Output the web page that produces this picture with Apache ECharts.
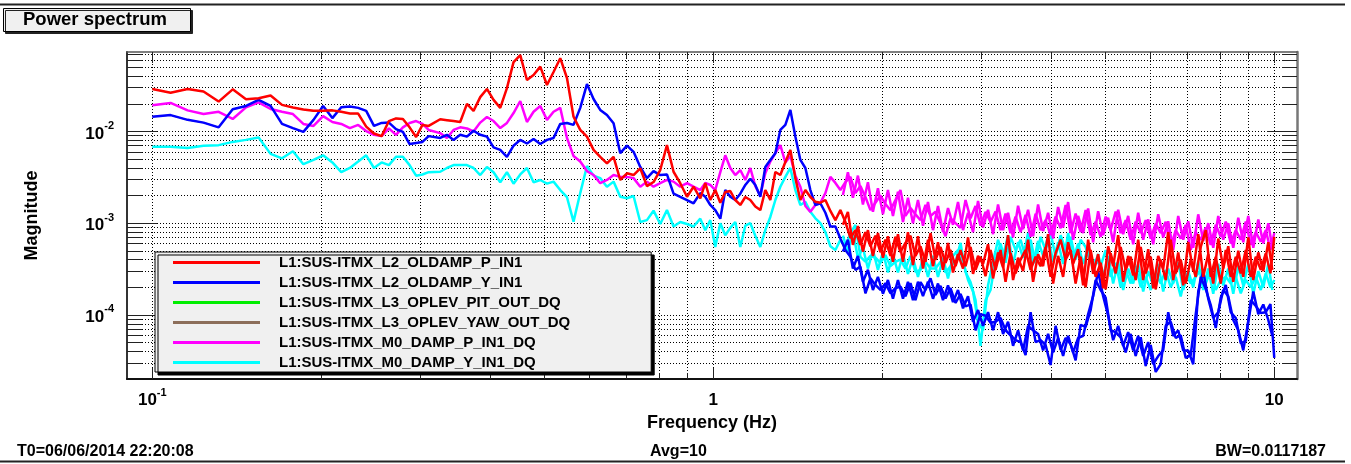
<!DOCTYPE html>
<html>
<head>
<meta charset="utf-8">
<title>Power spectrum</title>
<script src="https://cdn.jsdelivr.net/npm/echarts@6/dist/echarts.min.js"></script>
<style>
  html, body { margin: 0; padding: 0; background: #fff; }
  #main { width: 1351px; height: 464px; }
</style>
</head>
<body>
<div id="main"></div>
<script>
// frequency bins (Hz), shared by all traces
var freqs = [
  0.1, 0.1078, 0.1156, 0.1234, 0.1313, 0.1391, 0.1469, 0.1547, 0.1625, 0.1703,
  0.1781, 0.1859, 0.1938, 0.2016, 0.2094, 0.2172, 0.225, 0.2328, 0.2406, 0.2484,
  0.2563, 0.2641, 0.2719, 0.2797, 0.2875, 0.2953, 0.3031, 0.3109, 0.326, 0.3351,
  0.3443, 0.3539, 0.3638, 0.3738, 0.3842, 0.3949, 0.4058, 0.4171, 0.4287, 0.4405,
  0.4528, 0.4654, 0.4782, 0.4916, 0.5053, 0.5191, 0.5336, 0.5485, 0.5635, 0.5792,
  0.5954, 0.6117, 0.6287, 0.6463, 0.6641, 0.6826, 0.7017, 0.7209, 0.741, 0.7616,
  0.7825, 0.8043, 0.8268, 0.8495, 0.8732, 0.8977, 0.9223, 0.948, 0.9677, 0.9878,
  1.0082, 1.0292, 1.0505, 1.0723, 1.0945, 1.1172, 1.1405, 1.1641, 1.1883, 1.2129,
  1.2381, 1.2638, 1.2901, 1.3168, 1.3442, 1.3721, 1.4005, 1.4296, 1.4593, 1.4895,
  1.5205, 1.552, 1.5842, 1.6171, 1.6507, 1.6849, 1.7199, 1.7556, 1.792, 1.8292,
  1.8672, 1.9059, 1.9455, 1.9859, 2.0271, 2.0692, 2.1121, 2.156, 2.2007, 2.2464,
  2.293, 2.3406, 2.3892, 2.4388, 2.4894, 2.5411, 2.5938, 2.6476, 2.7026, 2.7587,
  2.8159, 2.8744, 2.934, 2.9949, 3.0571, 3.1205, 3.1853, 3.2514, 3.3189, 3.3878,
  3.4581, 3.5298, 3.6031, 3.6779, 3.7542, 3.8321, 3.9116, 3.9928, 4.0757, 4.1603,
  4.2466, 4.3347, 4.4247, 4.5165, 4.6103, 4.7059, 4.8036, 4.9033, 5.0051, 5.1089,
  5.215, 5.3232, 5.4337, 5.5464, 5.6615, 5.779, 5.899, 6.0214, 6.1464, 6.2739,
  6.4041, 6.537, 6.6727, 6.8112, 6.9525, 7.0968, 7.2441, 7.3944, 7.5479, 7.7045,
  7.8644, 8.0276, 8.1942, 8.3643, 8.5378, 8.715, 8.8959, 9.0806, 9.269, 9.4614,
  9.6578, 9.8431, 10.0
];

// extra bins in the noisy part (between the ones above), read as a second pass
var fineFreqs = [
  1.7023, 1.7376, 1.7737, 1.8105, 1.8481, 1.8865, 1.9256, 1.9656, 2.0064, 2.048,
  2.0906, 2.1339, 2.1783, 2.2234, 2.2696, 2.3167, 2.3648, 2.4139, 2.464, 2.5151,
  2.5673, 2.6206, 2.6749, 2.7305, 2.7872, 2.845, 2.9041, 2.9643, 3.0258, 3.0886,
  3.1527, 3.2182, 3.285, 3.3531, 3.4228, 3.4938, 3.5662, 3.6403, 3.7159, 3.7929,
  3.8716, 3.952, 4.034, 4.1178, 4.2032, 4.2904, 4.3794, 4.4704, 4.5631, 4.6579,
  4.7545, 4.8532, 4.9539, 5.0567, 5.1616, 5.2688, 5.3781, 5.4898, 5.6036, 5.7199,
  5.8386, 5.9599, 6.0835, 6.2098, 6.3386, 6.4702, 6.6044, 6.7415, 6.8815, 7.0242,
  7.17, 7.3188, 7.4707, 7.6258, 7.784, 7.9455, 8.1104, 8.2787, 8.4506, 8.6259,
  8.8049, 8.9877, 9.1743, 9.3646, 9.559, 9.7574, 9.92
];

// L1:SUS-ITMX_L2_OLDAMP_P_IN1
var oldampP = [
  2.9e-2, 2.65e-2, 2.9e-2, 2.73e-2, 2.12e-2, 2.88e-2, 2.25e-2, 2.3e-2, 2.47e-2, 1.95e-2,
  1.83e-2, 1.74e-2, 1.68e-2, 1.68e-2, 1.7e-2, 1.64e-2, 1.57e-2, 1.57e-2, 1.13e-2, 9.5e-3,
  8.9e-3, 1.3e-2, 1.39e-2, 1.37e-2, 1.11e-2, 8.7e-3, 1.18e-2, 1.15e-2, 1.36e-2, 1.33e-2,
  1.3e-2, 1.27e-2, 2.0e-2, 1.68e-2, 2.37e-2, 2.91e-2, 2.21e-2, 1.81e-2, 2.97e-2, 5.7e-2,
  6.8e-2, 3.64e-2, 4.13e-2, 5.1e-2, 3.21e-2, 4.46e-2, 6.3e-2, 3.83e-2, 1.45e-2, 1.04e-2,
  8.8e-3, 6.3e-3, 5.3e-3, 4.5e-3, 5.3e-3, 2.96e-3, 3.5e-3, 3.35e-3, 3.97e-3, 2.54e-3,
  2.81e-3, 3.8e-3, 7.1e-3, 3.64e-3, 2.73e-3, 1.94e-3, 2.5e-3, 1.87e-3, 2.73e-3, 1.79e-3,
  2.3e-3, 1.67e-3, 2.19e-3, 2.24e-3, 1.79e-3, 1.58e-3, 1.93e-3, 1.79e-3, 1.52e-3, 1.39e-3,
  2.3e-3, 1.79e-3, 3.62e-3, 3.35e-3, 4.65e-3, 6.3e-3, 3.1e-3, 1.79e-3, 2.3e-3, 1.93e-3,
  1.71e-3, 1.67e-3, 1.79e-3, 1.36e-3, 1.08e-3, 1.39e-3, 1.03e-3, 6.9e-4, 8.4e-4, 5.8e-4,
  8.0e-4, 5.6e-4, 7.3e-4, 4.85e-4, 6.6e-4, 4.4e-4, 7.1e-4, 4.85e-4, 6.1e-4, 7.3e-4,
  4.4e-4, 5.6e-4, 3.8e-4, 7.8e-4, 4.0e-4, 5.5e-4, 3.7e-4, 5.1e-4, 3.4e-4, 5.1e-4,
  3.4e-4, 5.5e-4, 3.1e-4, 4.3e-4, 2.65e-4, 5.1e-4, 3.1e-4, 5.1e-4, 2.3e-4, 4.7e-4,
  2.84e-4, 4.0e-4, 5.1e-4, 3.1e-4, 4.3e-4, 3.4e-4, 5.5e-4, 2.6e-4, 4.7e-4, 6.6e-4,
  4.0e-4, 5.1e-4, 2.2e-4, 4.3e-4, 2.0e-4, 5.1e-4, 2.6e-4, 3.7e-4, 1.9e-4, 4.7e-4,
  2.84e-4, 5.5e-4, 3.1e-4, 4.3e-4, 2.4e-4, 5.5e-4, 2.84e-4, 4.3e-4, 1.9e-4, 4.0e-4,
  2.4e-4, 6.6e-4, 2.84e-4, 4.0e-4, 2.2e-4, 4.0e-4, 2.6e-4, 5.5e-4, 8.4e-4, 2.6e-4,
  4.3e-4, 2.2e-4, 5.1e-4, 2.6e-4, 4.3e-4, 2.84e-4, 5.1e-4, 2.6e-4, 4.3e-4, 3.1e-4,
  4.7e-4, 2.84e-4, 7.1e-4
];
var oldampPFine = [
  9.6e-4, 1.33e-3, 5.8e-4, 9.3e-4, 4.9e-4, 8.4e-4, 4.4e-4, 7.8e-4, 4.2e-4, 7.2e-4,
  3.8e-4, 7.6e-4, 3.8e-4, 8.0e-4, 3.5e-4, 7.2e-4, 3.2e-4, 6.6e-4, 3.4e-4, 6.2e-4,
  3.1e-4, 6.1e-4, 2.9e-4, 4.6e-4, 3.2e-4, 7.0e-4, 2.8e-4, 4.4e-4, 3.6e-4, 5.9e-4,
  2.5e-4, 4.8e-4, 3.3e-4, 7.4e-4, 2.4e-4, 4.2e-4, 3.0e-4, 6.6e-4, 2.3e-4, 4.6e-4,
  3.4e-4, 7.6e-4, 2.2e-4, 4.4e-4, 2.6e-4, 6.2e-4, 3.6e-4, 5.2e-4, 2.1e-4, 6.6e-4,
  2.8e-4, 4.6e-4, 1.95e-4, 5.6e-4, 3.4e-4, 7.4e-4, 2.3e-4, 4.4e-4, 2.7e-4, 6.6e-4,
  2.4e-4, 5.2e-4, 1.95e-4, 4.4e-4, 3.2e-4, 8.0e-4, 2.4e-4, 4.8e-4, 2.1e-4, 6.2e-4,
  3.0e-4, 7.6e-4, 2.6e-4, 4.6e-4, 2.2e-4, 6.8e-4, 3.2e-4, 5.6e-4, 2.3e-4, 5.0e-4,
  2.6e-4, 7.0e-4, 2.4e-4, 4.8e-4, 3.0e-4, 6.2e-4, 3.1e-4
];

// L1:SUS-ITMX_L2_OLDAMP_Y_IN1
var oldampY = [
  1.45e-2, 1.51e-2, 1.34e-2, 1.25e-2, 1.11e-2, 1.75e-2, 1.9e-2, 2.21e-2, 1.9e-2, 1.21e-2,
  1.09e-2, 9.9e-3, 1.34e-2, 1.9e-2, 1.4e-2, 1.84e-2, 1.87e-2, 1.81e-2, 1.68e-2, 1.15e-2,
  1.24e-2, 1.25e-2, 1.06e-2, 9.9e-3, 7.3e-3, 7.5e-3, 7.7e-3, 8.9e-3, 8.5e-3, 9.2e-3,
  8.1e-3, 9.2e-3, 8.8e-3, 1.02e-2, 9.2e-3, 8.8e-3, 6.7e-3, 6.3e-3, 5.3e-3, 7.0e-3,
  8.1e-3, 7.4e-3, 8.3e-3, 7.3e-3, 8.1e-3, 8.5e-3, 1.21e-2, 1.24e-2, 1.18e-2, 1.81e-2,
  3.29e-2, 2.26e-2, 1.72e-2, 1.51e-2, 1.23e-2, 5.8e-3, 7.0e-3, 6.0e-3, 4.1e-3, 3.1e-3,
  3.7e-3, 3.35e-3, 3.4e-3, 2.1e-3, 1.94e-3, 1.79e-3, 1.65e-3, 2.13e-3, 1.94e-3, 1.58e-3,
  1.39e-3, 1.12e-3, 2.3e-3, 1.94e-3, 1.79e-3, 2.1e-3, 2.61e-3, 3.06e-3, 2.61e-3, 1.94e-3,
  4.1e-3, 4.9e-3, 5.8e-3, 1.04e-2, 1.18e-2, 1.72e-2, 8.8e-3, 4.9e-3, 4.0e-3, 2.3e-3,
  1.58e-3, 1.65e-3, 1.3e-3, 9.2e-4, 9.2e-4, 6.8e-4, 5.1e-4, 4.3e-4, 3.1e-4, 3.36e-4,
  1.72e-4, 2.51e-4, 2.12e-4, 1.87e-4, 2.21e-4, 1.72e-4, 1.96e-4, 2.03e-4, 1.6e-4, 2.22e-4,
  1.45e-4, 2.28e-4, 1.87e-4, 2.51e-4, 1.65e-4, 2.07e-4, 1.51e-4, 1.96e-4, 1.35e-4, 1.69e-4,
  1.24e-4, 1.3e-4, 6.8e-5, 1.02e-4, 9.8e-5, 8.2e-5, 8.4e-5, 9.25e-5, 6.8e-5, 6.0e-5,
  5.3e-5, 5.05e-5, 3.65e-5, 1.07e-4, 5.05e-5, 5.3e-5, 4.7e-5, 2.84e-5, 7.6e-5, 4.14e-5,
  5.6e-5, 4.8e-5, 3.2e-5, 7.8e-5, 7.4e-5, 1.13e-4, 2.4e-4, 1.87e-4, 1.54e-4, 6.8e-5,
  6.5e-5, 5.7e-5, 3.9e-5, 6.2e-5, 3.56e-5, 5.7e-5, 2.77e-5, 4.7e-5, 2.39e-5, 2.91e-5,
  7.6e-5, 8.4e-5, 5.6e-5, 6.0e-5, 3.4e-5, 3.65e-5, 1.02e-4, 2.59e-4, 1.91e-4, 1.28e-4,
  7.2e-5, 1.54e-4, 2.12e-4, 1.07e-4, 9.25e-5, 4.9e-5, 5.2e-5, 1.45e-4, 1.25e-4, 1.05e-4,
  1.07e-4, 1.31e-4, 3.4e-5
];
var oldampYFine = [
  4.9e-4, 6.6e-4, 3.2e-4, 4.4e-4, 2.3e-4, 3.1e-4, 1.87e-4, 2.6e-4, 1.7e-4, 2.4e-4,
  1.5e-4, 2.4e-4, 1.5e-4, 2.3e-4, 1.45e-4, 2.3e-4, 1.6e-4, 2.3e-4, 1.5e-4, 2.2e-4,
  1.45e-4, 2.1e-4, 1.38e-4, 1.87e-4, 1.18e-4, 1.6e-4, 8.4e-5, 1.13e-4, 7.6e-5, 1.07e-4,
  6.8e-5, 1.07e-4, 6.2e-5, 8.4e-5, 4.6e-5, 6.8e-5, 4.1e-5, 7.6e-5, 6.8e-5, 6.2e-5,
  4.1e-5, 6.2e-5, 3.9e-5, 5.6e-5, 3.56e-5, 5.9e-5, 3.9e-5, 5.6e-5, 5.9e-5, 1.02e-4,
  1.6e-4, 3.0e-4, 1.6e-4, 9.8e-5, 5.3e-5, 7.6e-5, 4.6e-5, 6.5e-5, 4.1e-5, 5.9e-5,
  3.56e-5, 5.05e-5, 2.9e-5, 3.56e-5, 4.1e-5, 1.07e-4, 5.9e-5, 6.8e-5, 4.1e-5, 4.1e-5,
  2.9e-5, 1.8e-4, 3.0e-4, 1.5e-4, 9.25e-5, 1.07e-4, 1.87e-4, 1.6e-4, 8.8e-5, 6.8e-5,
  4.1e-5, 8.4e-5, 1.8e-4, 1.02e-4, 1.3e-4, 8.8e-5, 5.9e-5
];

// the L3 oplev traces lie right under the L2 traces, hidden by them
var oplevPit = oldampP;
var oplevYaw = oldampY;

// L1:SUS-ITMX_M0_DAMP_P_IN1_DQ
var m0DampP = [
  1.93e-2, 2.05e-2, 1.7e-2, 1.55e-2, 1.64e-2, 1.37e-2, 1.83e-2, 2.08e-2, 1.76e-2, 1.64e-2,
  1.55e-2, 1.21e-2, 1.15e-2, 1.47e-2, 1.27e-2, 1.21e-2, 1.09e-2, 1.18e-2, 1.01e-2, 9.2e-3,
  8.9e-3, 1.08e-2, 9.2e-3, 1.11e-2, 1.24e-2, 1.3e-2, 1.21e-2, 1.04e-2, 9.6e-3, 8.5e-3,
  1.04e-2, 1.11e-2, 1.08e-2, 1.0e-2, 1.25e-2, 1.44e-2, 1.3e-2, 1.09e-2, 1.24e-2, 1.59e-2,
  2.15e-2, 1.27e-2, 1.64e-2, 1.9e-2, 1.34e-2, 1.64e-2, 1.81e-2, 8.5e-3, 5.4e-3, 4.7e-3,
  3.7e-3, 3.35e-3, 2.73e-3, 2.96e-3, 3.35e-3, 3.2e-3, 3.2e-3, 3.1e-3, 2.5e-3, 2.84e-3,
  2.5e-3, 2.73e-3, 2.96e-3, 2.84e-3, 2.5e-3, 2.73e-3, 2.5e-3, 2.3e-3, 2.75e-3, 2.61e-3,
  2.3e-3, 3.6e-3, 5.5e-3, 4.0e-3, 3.35e-3, 3.8e-3, 2.96e-3, 4.0e-3, 2.54e-3, 2.0e-3,
  3.5e-3, 4.7e-3, 5.8e-3, 7.1e-3, 4.6e-3, 5.4e-3, 3.3e-3, 2.5e-3, 1.54e-3, 1.33e-3,
  1.58e-3, 1.67e-3, 2.13e-3, 3.2e-3, 2.75e-3, 2.3e-3, 2.81e-3, 3.2e-3, 2.13e-3, 2.54e-3,
  1.93e-3, 1.39e-3, 1.67e-3, 2.0e-3, 1.62e-3, 1.39e-3, 1.79e-3, 2.3e-3, 1.2e-3, 1.46e-3,
  1.25e-3, 1.08e-3, 1.58e-3, 1.2e-3, 1.33e-3, 1.0e-3, 7.2e-4, 1.13e-3, 1.0e-3, 8.9e-4,
  1.79e-3, 1.13e-3, 1.54e-3, 9.4e-4, 1.33e-3, 1.03e-3, 1.34e-3, 8.4e-4, 1.27e-3, 7.8e-4,
  1.18e-3, 8.0e-4, 1.23e-3, 7.1e-4, 1.27e-3, 8.4e-4, 1.08e-3, 7.4e-4, 1.18e-3, 8.8e-4,
  1.58e-3, 7.8e-4, 1.27e-3, 8.0e-4, 1.39e-3, 7.4e-4, 1.04e-3, 7.1e-4, 1.18e-3, 8.4e-4,
  1.34e-3, 7.8e-4, 1.08e-3, 6.6e-4, 1.04e-3, 7.8e-4, 1.08e-3, 6.8e-4, 9.9e-4, 7.8e-4,
  1.04e-3, 5.5e-4, 8.4e-4, 6.8e-4, 9.6e-4, 5.1e-4, 8.0e-4, 6.6e-4, 9.0e-4, 5.8e-4,
  9.6e-4, 7.1e-4, 1.04e-3, 6.0e-4, 8.4e-4, 6.6e-4, 1.04e-3, 5.8e-4, 8.0e-4, 6.3e-4,
  8.4e-4, 5.1e-4, 7.8e-4
];
var m0DampPFine = [
  2.03e-3, 3.6e-3, 1.9e-3, 3.3e-3, 1.6e-3, 2.8e-3, 1.33e-3, 2.4e-3, 1.25e-3, 2.3e-3,
  1.2e-3, 2.2e-3, 1.03e-3, 1.9e-3, 1.0e-3, 1.79e-3, 9.4e-4, 1.7e-3, 8.4e-4, 1.54e-3,
  8.0e-4, 1.46e-3, 9.6e-4, 1.7e-3, 8.4e-4, 1.3e-3, 8.0e-4, 1.75e-3, 9.0e-4, 1.4e-3,
  7.6e-4, 1.6e-3, 8.4e-4, 1.3e-3, 7.0e-4, 1.55e-3, 8.6e-4, 1.4e-3, 7.2e-4, 1.6e-3,
  8.2e-4, 1.3e-3, 6.8e-4, 1.5e-3, 9.0e-4, 1.7e-3, 6.6e-4, 1.2e-3, 7.8e-4, 1.45e-3,
  6.2e-4, 1.35e-3, 7.4e-4, 1.15e-3, 6.2e-4, 1.4e-3, 7.6e-4, 1.2e-3, 5.9e-4, 1.3e-3,
  6.6e-4, 1.1e-3, 5.9e-4, 1.25e-3, 7.0e-4, 1.05e-3, 5.1e-4, 1.2e-3, 6.6e-4, 1.05e-3,
  5.4e-4, 1.25e-3, 6.4e-4, 1.0e-3, 5.4e-4, 1.2e-3, 6.6e-4, 1.0e-3, 5.4e-4, 1.15e-3,
  6.2e-4, 1.2e-3, 5.4e-4, 1.1e-3, 6.0e-4, 1.0e-3, 5.4e-4
];

// L1:SUS-ITMX_M0_DAMP_Y_IN1_DQ
var m0DampY = [
  6.8e-3, 6.8e-3, 6.6e-3, 7.0e-3, 7.1e-3, 7.7e-3, 8.1e-3, 8.6e-3, 5.7e-3, 5.1e-3,
  6.1e-3, 4.4e-3, 4.9e-3, 5.5e-3, 4.6e-3, 3.6e-3, 4.0e-3, 4.7e-3, 5.5e-3, 4.0e-3,
  4.6e-3, 4.3e-3, 5.3e-3, 5.3e-3, 4.3e-3, 3.3e-3, 3.4e-3, 3.6e-3, 3.64e-3, 4.0e-3,
  4.3e-3, 4.3e-3, 4.3e-3, 4.0e-3, 3.35e-3, 4.1e-3, 3.6e-3, 2.8e-3, 3.6e-3, 2.7e-3,
  3.4e-3, 4.0e-3, 2.8e-3, 2.96e-3, 2.7e-3, 2.84e-3, 2.3e-3, 1.92e-3, 1.04e-3, 2.13e-3,
  4.2e-3, 3.3e-3, 3.1e-3, 2.5e-3, 2.84e-3, 1.94e-3, 1.87e-3, 1.98e-3, 1.03e-3, 1.08e-3,
  1.37e-3, 9.8e-4, 1.39e-3, 9.2e-4, 1.03e-3, 9.8e-4, 9.2e-4, 1.12e-3, 8.4e-4, 1.08e-3,
  5.5e-4, 1.0e-3, 7.4e-4, 8.9e-4, 1.03e-3, 5.5e-4, 9.4e-4, 1.0e-3, 7.3e-4, 5.5e-4,
  8.4e-4, 1.17e-3, 1.79e-3, 2.5e-3, 3.2e-3, 4.0e-3, 2.3e-3, 1.58e-3, 1.71e-3, 1.33e-3,
  1.13e-3, 1.0e-3, 8.0e-4, 5.6e-4, 5.1e-4, 6.6e-4, 5.5e-4, 7.8e-4, 9.6e-4, 4.3e-4,
  3.8e-4, 4.4e-4, 4.2e-4, 3.7e-4, 4.5e-4, 3.4e-4, 3.8e-4, 4.0e-4, 3.2e-4, 4.4e-4,
  2.94e-4, 3.1e-4, 3.8e-4, 3.2e-4, 3.2e-4, 3.8e-4, 2.9e-4, 3.4e-4, 3.8e-4, 6.1e-4,
  2.94e-4, 2.28e-4, 1.45e-4, 4.6e-5, 1.45e-4, 1.87e-4, 4.0e-4, 6.0e-4, 3.7e-4, 7.1e-4,
  5.1e-4, 6.6e-4, 4.3e-4, 6.6e-4, 3.7e-4, 7.1e-4, 5.1e-4, 7.8e-4, 4.3e-4, 7.4e-4,
  5.1e-4, 7.1e-4, 4.0e-4, 6.6e-4, 5.5e-4, 3.7e-4, 4.0e-4, 3.4e-4, 5.1e-4, 2.6e-4,
  3.7e-4, 2.0e-4, 3.1e-4, 2.2e-4, 3.4e-4, 2.0e-4, 2.6e-4, 1.87e-4, 2.84e-4, 2.2e-4,
  3.1e-4, 2.0e-4, 2.6e-4, 1.59e-4, 2.84e-4, 2.2e-4, 2.6e-4, 3.1e-4, 2.2e-4, 3.1e-4,
  1.87e-4, 2.4e-4, 2.6e-4, 2.2e-4, 2.6e-4, 1.72e-4, 2.4e-4, 2.0e-4, 2.6e-4, 1.87e-4,
  2.84e-4, 2.0e-4, 2.4e-4
];
var m0DampYFine = [
  7.3e-4, 4.9e-4, 8.0e-4, 4.2e-4, 5.4e-4, 3.2e-4, 5.1e-4, 3.1e-4, 4.9e-4, 2.9e-4,
  4.6e-4, 2.9e-4, 4.6e-4, 2.8e-4, 4.2e-4, 2.6e-4, 4.2e-4, 2.6e-4, 4.4e-4, 2.6e-4,
  4.2e-4, 2.5e-4, 4.4e-4, 5.1e-4, 3.8e-4, 2.4e-4, 1.8e-4, 8.4e-5, 6.8e-5, 2.1e-4,
  3.8e-4, 6.6e-4, 4.4e-4, 7.4e-4, 3.6e-4, 6.2e-4, 4.2e-4, 7.8e-4, 3.6e-4, 6.4e-4,
  4.4e-4, 7.3e-4, 3.8e-4, 6.2e-4, 3.6e-4, 7.8e-4, 4.0e-4, 6.0e-4, 3.6e-4, 5.4e-4,
  3.1e-4, 4.6e-4, 2.6e-4, 4.4e-4, 2.2e-4, 3.8e-4, 1.87e-4, 3.2e-4, 2.2e-4, 3.6e-4,
  1.8e-4, 3.0e-4, 2.1e-4, 3.6e-4, 1.8e-4, 3.2e-4, 2.2e-4, 3.8e-4, 1.87e-4, 3.0e-4,
  2.0e-4, 3.8e-4, 1.87e-4, 3.2e-4, 1.7e-4, 3.6e-4, 2.1e-4, 3.2e-4, 1.7e-4, 3.4e-4,
  2.1e-4, 3.6e-4, 1.7e-4, 3.0e-4, 2.0e-4, 3.6e-4, 1.87e-4
];

var traceNames = [
  'L1:SUS-ITMX_L2_OLDAMP_P_IN1',
  'L1:SUS-ITMX_L2_OLDAMP_Y_IN1',
  'L1:SUS-ITMX_L3_OPLEV_PIT_OUT_DQ',
  'L1:SUS-ITMX_L3_OPLEV_YAW_OUT_DQ',
  'L1:SUS-ITMX_M0_DAMP_P_IN1_DQ',
  'L1:SUS-ITMX_M0_DAMP_Y_IN1_DQ'
];
var traceValues = [oldampP, oldampY, oplevPit, oplevYaw, m0DampP, m0DampY];
var traceFine = [oldampPFine, oldampYFine, null, null, m0DampPFine, m0DampYFine];
var traceColors = ['#ff0000', '#0000ff', '#00ee00', '#8c6e5a', '#ff00ff', '#00ffff'];
var traceWidths = [2.5, 2.5, 1.2, 1.2, 2.5, 2.5];

// decades that get a labelled tick
var xDecades = [0.1, 1, 10];
var yDecades = [1e-4, 1e-3, 1e-2];

// plotted range, in log10 units
var xMin = -1.0451, xMax = 1.0405;
var yMin = -4.699, yMax = -1.1331;

var FONT = '"Liberation Sans", Arial, Helvetica, sans-serif';

function lg(v) { return Math.log10(v); }

// ticks at 1..9 x decade inside the range (log10 units)
function allTicks(decades, lo, hi) {
  var out = [];
  [decades[0] / 10].concat(decades).forEach(function (d) {
    for (var k = 1; k <= 9; k++) {
      var v = lg(d * k);
      if (v > lo + 0.005 && v < hi - 0.005) out.push(v);
    }
  });
  return out;
}

var xMajor = xDecades.map(lg);
var yMajor = yDecades.map(lg);
var xAll = allTicks(xDecades, xMin, xMax);
var yAll = allTicks(yDecades, yMin, yMax);

function powLabel(v) {
  var e = Math.round(v);
  if (e === 0) return '{b|1}';
  if (e === 1) return '{b|10}';
  return '{b|10}{s|' + e + '}';
}
var powRich = {
  b: { fontFamily: FONT, fontWeight: 'bold', fontSize: 17, color: '#000', lineHeight: 22, verticalAlign: 'bottom' },
  s: { fontFamily: FONT, fontWeight: 'bold', fontSize: 11, color: '#000', lineHeight: 22, verticalAlign: 'top' }
};

var tickStyle = { color: '#222', width: 1 };
var gridStyle = { color: '#000', width: 1, type: [1, 2] };

function axis(pos, extent, ticks, len, opts) {
  var a = {
    type: 'value', position: pos, min: extent[0], max: extent[1],
    axisLine: { show: false, onZero: false },
    axisTick: { show: true, inside: true, length: len, customValues: ticks, lineStyle: tickStyle },
    axisLabel: { show: false },
    splitLine: { show: false }
  };
  for (var k in opts) a[k] = opts[k];
  return a;
}

function pairs(fs, vals) {
  var n = Math.min(fs.length, vals.length);
  var data = [];
  for (var j = 0; j < n; j++) data.push([lg(fs[j]), lg(vals[j])]);
  return data;
}

function lineSeries(name, i, data) {
  return {
    name: name, type: 'line', data: data,
    showSymbol: false, symbol: 'none',
    lineStyle: { color: traceColors[i], width: traceWidths[i] },
    itemStyle: { color: traceColors[i] },
    emphasis: { disabled: true }
  };
}

var xs = [xMin, xMax], ys = [yMin, yMax];

// ROOT draws the first trace on top, so build the list back to front
var series = [];
for (var i = traceNames.length - 1; i >= 0; i--) {
  series.push(lineSeries(traceNames[i], i, pairs(freqs, traceValues[i])));
  if (traceFine[i]) series.push(lineSeries(traceNames[i], i, pairs(fineFreqs, traceFine[i])));
}

var chart = echarts.init(document.getElementById('main'));
chart.setOption({
  animation: false,
  backgroundColor: '#fff',
  title: {
    text: 'Power spectrum', left: 3, top: 8,
    padding: [2, 24, 2, 20],
    backgroundColor: '#f0f0f0', borderColor: '#000', borderWidth: 1,
    shadowColor: '#222', shadowOffsetX: 2, shadowOffsetY: 2, shadowBlur: 0,
    textStyle: { fontFamily: FONT, fontWeight: 'bold', fontSize: 18.5, color: '#000', lineHeight: 20 }
  },
  grid: { left: 127, top: 52, right: 54, bottom: 85, containLabel: false },
  legend: {
    data: traceNames, orient: 'vertical', left: 155, top: 252,
    padding: [3, 81, 2, 18], itemGap: 5,
    itemWidth: 87, itemHeight: 3, icon: 'rect',
    backgroundColor: '#f0f0f0', borderColor: '#000', borderWidth: 1,
    shadowColor: '#000', shadowOffsetX: 3, shadowOffsetY: 3, shadowBlur: 0,
    selectedMode: false,
    textStyle: { fontFamily: FONT, fontWeight: 'bold', fontSize: 15, color: '#000', lineHeight: 15, padding: [0, 0, 0, 14] }
  },
  xAxis: [
    axis('bottom', xs, xMajor, 11, {
      axisLine: { show: true, onZero: false, lineStyle: { color: '#111', width: 2 } },
      axisLabel: { show: true, customValues: xMajor, margin: 8, formatter: powLabel, rich: powRich },
      name: 'Frequency (Hz)', nameLocation: 'middle', nameGap: 33,
      nameTextStyle: { fontFamily: FONT, fontWeight: 'bold', fontSize: 18, color: '#000' }
    }),
    axis('bottom', xs, xAll, 6, { splitLine: { show: true, lineStyle: gridStyle } }),
    axis('top', xs, xMajor, 11, { axisLine: { show: true, onZero: false, lineStyle: { color: '#555', width: 1.5 } } }),
    axis('top', xs, xAll, 6, {})
  ],
  yAxis: [
    axis('left', ys, yMajor, 30, {
      axisLine: { show: true, onZero: false, lineStyle: { color: '#333', width: 2 } },
      axisLabel: { show: true, customValues: yMajor, margin: 13, formatter: powLabel, rich: powRich },
      name: 'Magnitude', nameLocation: 'middle', nameGap: 86, nameRotate: 90,
      nameTextStyle: { fontFamily: FONT, fontWeight: 'bold', fontSize: 18, color: '#000' }
    }),
    axis('left', ys, yAll, 15, { splitLine: { show: true, lineStyle: gridStyle } }),
    axis('right', ys, yMajor, 30, { axisLine: { show: true, onZero: false, lineStyle: { color: '#777', width: 2.5 } } }),
    axis('right', ys, yAll, 15, {})
  ],
  graphic: [
    { type: 'line', shape: { x1: 0, y1: 4.5, x2: 1345, y2: 4.5 }, style: { stroke: '#222', lineWidth: 2 } },
    { type: 'line', shape: { x1: 0, y1: 461.5, x2: 1345, y2: 461.5 }, style: { stroke: '#222', lineWidth: 2 } },
    { type: 'text', left: 17, top: 444, style: { text: 'T0=06/06/2014 22:20:08', font: 'bold 16px ' + FONT, fill: '#000' } },
    { type: 'text', left: 650, top: 444, style: { text: 'Avg=10', font: 'bold 16px ' + FONT, fill: '#000' } },
    { type: 'text', right: 25, top: 444, style: { text: 'BW=0.0117187', font: 'bold 16px ' + FONT, fill: '#000' } }
  ],
  series: series
});
</script>
</body>
</html>
